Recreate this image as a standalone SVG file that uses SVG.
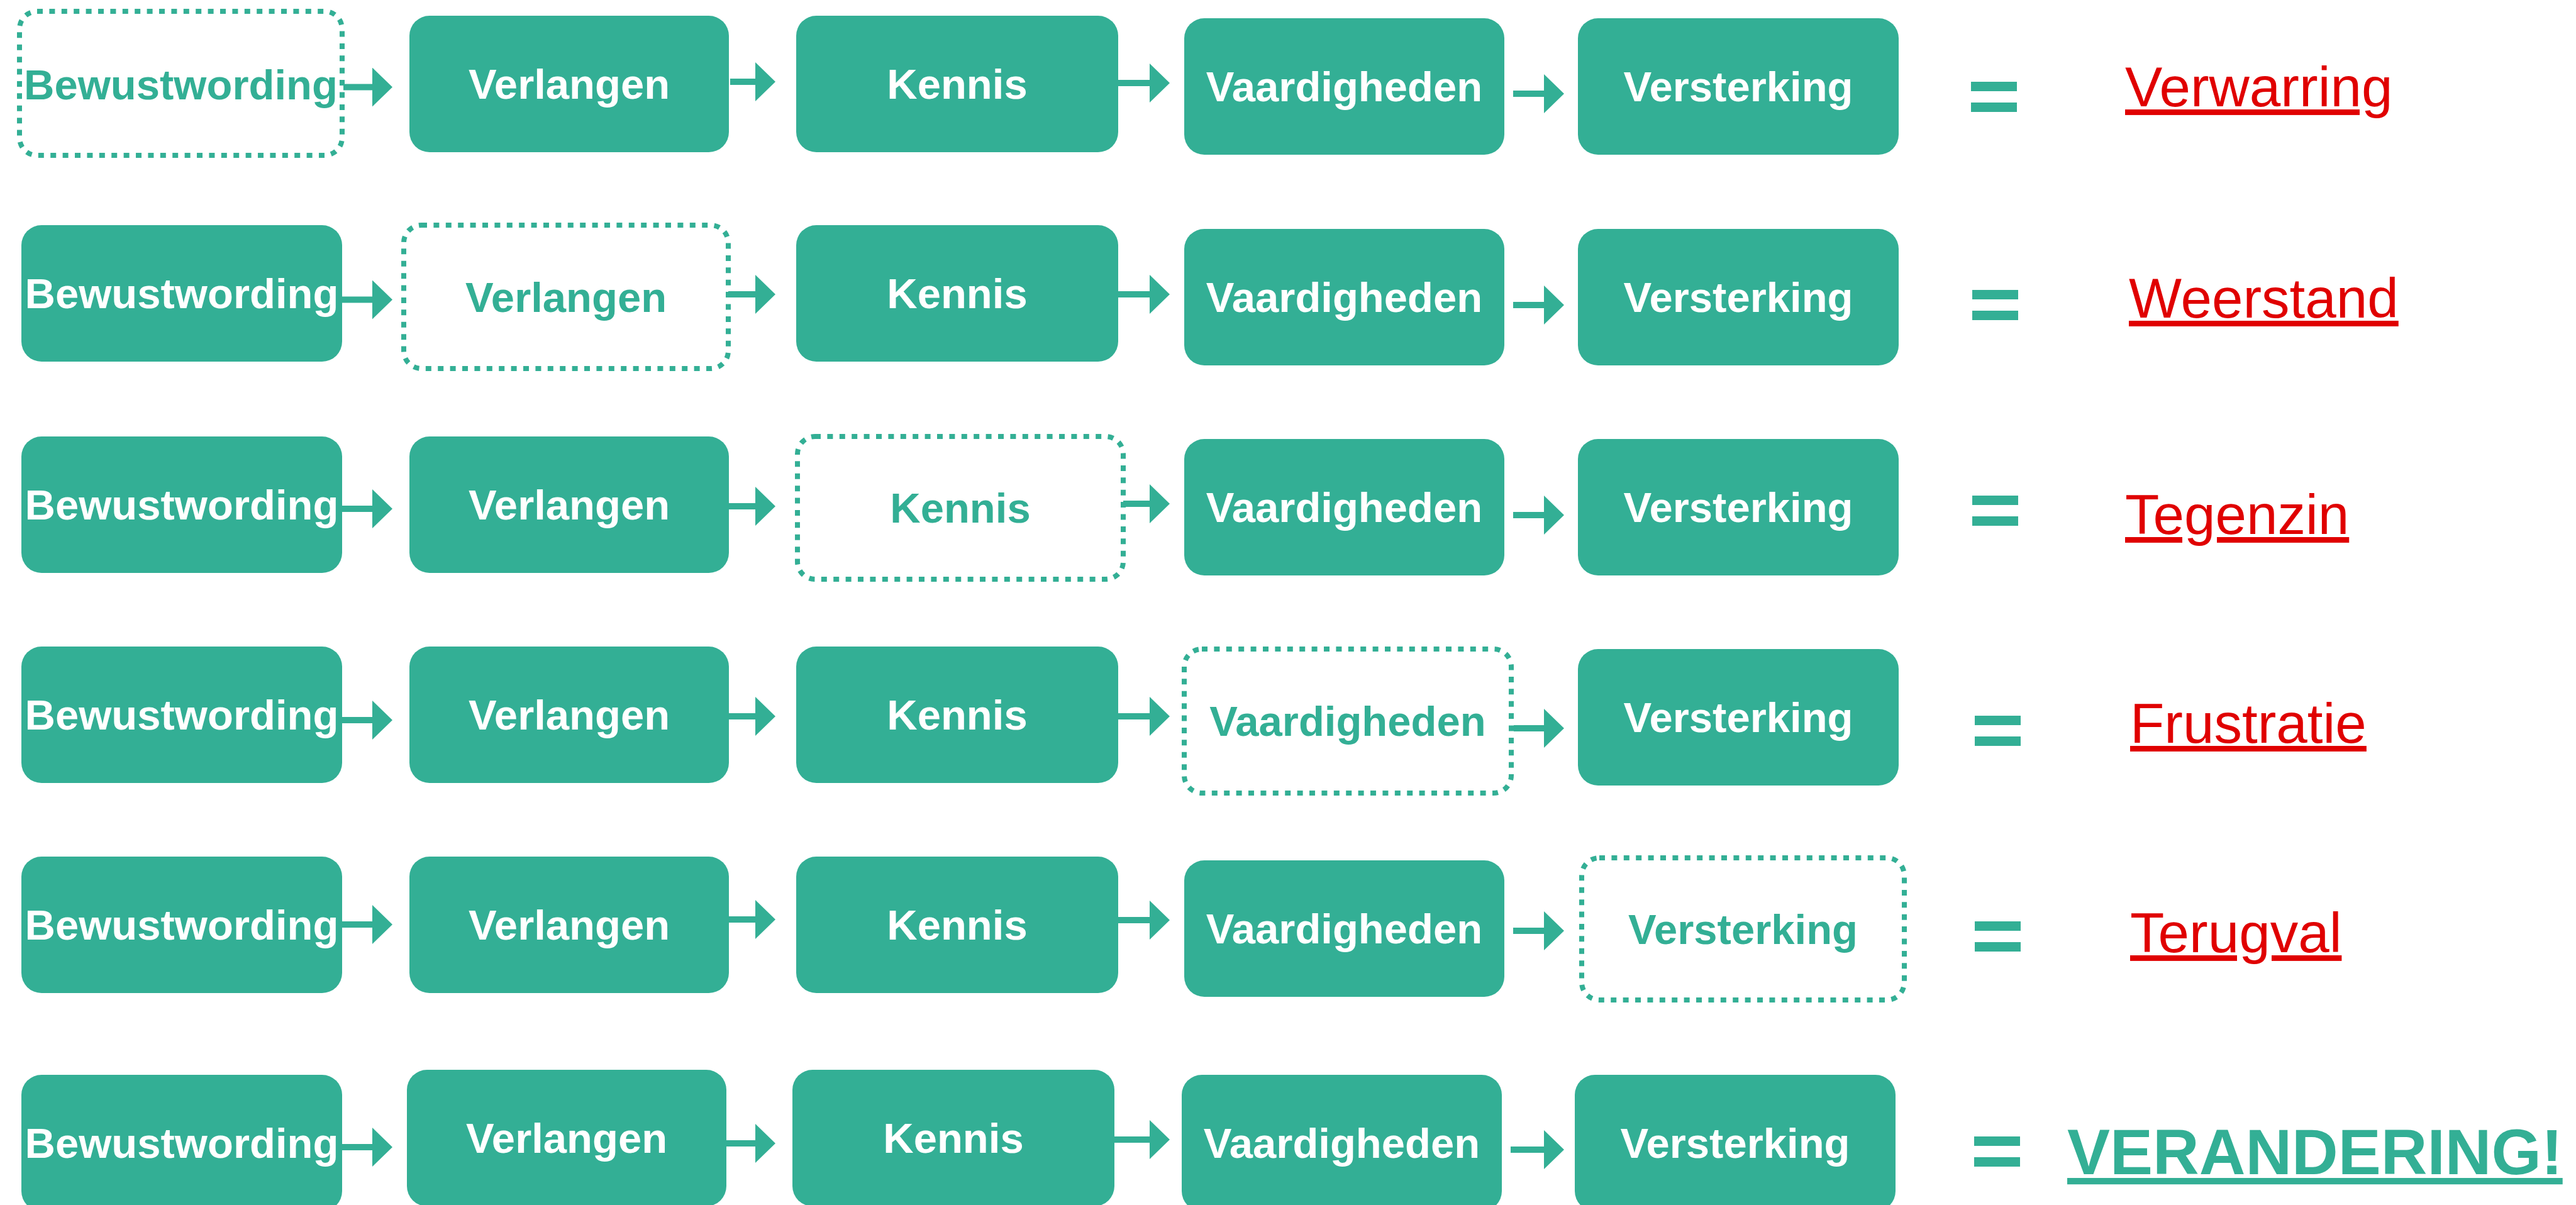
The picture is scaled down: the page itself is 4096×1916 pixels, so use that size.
<svg xmlns="http://www.w3.org/2000/svg" width="4096" height="1916" viewBox="0 0 4096 1916">
<style>
  .box { fill: #33AF95; }
  .dbox { fill: none; stroke: #33AF95; stroke-width: 8; stroke-dasharray: 9 10.4; }
  .lbl { font-family: "Liberation Sans", Arial, Helvetica, sans-serif; font-weight: bold; font-size: 67px; text-anchor: middle; }
  .w { fill: #FFFFFF; }
  .t { fill: #33AF95; }
  .res { font-family: "Liberation Sans", Arial, Helvetica, sans-serif; font-size: 89px; fill: #E00000; text-decoration: underline; }
  .fin { font-family: "Liberation Sans", Arial, Helvetica, sans-serif; font-weight: bold; font-size: 102px; fill: #33AF95; text-decoration: underline; }
  .eq { fill: #33AF95; }
  .arr { stroke: #33AF95; stroke-width: 10; fill: none; }
</style>
<defs>
  <marker id="ah" markerUnits="userSpaceOnUse" viewBox="0 0 32 62" markerWidth="32" markerHeight="62" refX="0" refY="31" orient="auto">
    <path d="M0,0 L32,31 L0,62 Z" fill="#33AF95"/>
  </marker>
</defs>
<rect width="4096" height="1916" fill="#FFFFFF"/>

<!-- Row 1 -->
<g id="r1-bewustwording"><rect class="dbox" x="31" y="18" width="513" height="229" rx="28"/><text class="lbl t" x="287.5" y="158">Bewustwording</text></g>
<g id="r1-verlangen"><rect class="box" x="651" y="25" width="508" height="217" rx="32"/><text class="lbl w" x="905" y="157">Verlangen</text></g>
<g id="r1-kennis"><rect class="box" x="1266" y="25" width="512" height="217" rx="32"/><text class="lbl w" x="1522" y="157">Kennis</text></g>
<g id="r1-vaardigheden"><rect class="box" x="1883" y="29" width="509" height="217" rx="32"/><text class="lbl w" x="2137.5" y="161">Vaardigheden</text></g>
<g id="r1-versterking"><rect class="box" x="2509" y="29" width="510" height="217" rx="32"/><text class="lbl w" x="2764" y="161">Versterking</text></g>
<g id="r1-result"><rect class="eq" x="3134" y="130" width="73" height="15"/><rect class="eq" x="3134" y="163" width="73" height="15"/><text class="res" x="3379" y="169">Verwarring</text></g>

<!-- Row 2 -->
<g id="r2-bewustwording"><rect class="box" x="34" y="358" width="510" height="217" rx="32"/><text class="lbl w" x="289" y="490">Bewustwording</text></g>
<g id="r2-verlangen"><rect class="dbox" x="642" y="358" width="516" height="228" rx="28"/><text class="lbl t" x="900" y="496">Verlangen</text></g>
<g id="r2-kennis"><rect class="box" x="1266" y="358" width="512" height="217" rx="32"/><text class="lbl w" x="1522" y="490">Kennis</text></g>
<g id="r2-vaardigheden"><rect class="box" x="1883" y="364" width="509" height="217" rx="32"/><text class="lbl w" x="2137.5" y="496">Vaardigheden</text></g>
<g id="r2-versterking"><rect class="box" x="2509" y="364" width="510" height="217" rx="32"/><text class="lbl w" x="2764" y="496">Versterking</text></g>
<g id="r2-result"><rect class="eq" x="3136" y="461" width="73" height="15"/><rect class="eq" x="3136" y="494" width="73" height="15"/><text class="res" x="3385" y="505">Weerstand</text></g>

<!-- Row 3 -->
<g id="r3-bewustwording"><rect class="box" x="34" y="694" width="510" height="217" rx="32"/><text class="lbl w" x="289" y="826">Bewustwording</text></g>
<g id="r3-verlangen"><rect class="box" x="651" y="694" width="508" height="217" rx="32"/><text class="lbl w" x="905" y="826">Verlangen</text></g>
<g id="r3-kennis"><rect class="dbox" x="1268" y="694" width="518" height="227" rx="28"/><text class="lbl t" x="1527" y="831">Kennis</text></g>
<g id="r3-vaardigheden"><rect class="box" x="1883" y="698" width="509" height="217" rx="32"/><text class="lbl w" x="2137.5" y="830">Vaardigheden</text></g>
<g id="r3-versterking"><rect class="box" x="2509" y="698" width="510" height="217" rx="32"/><text class="lbl w" x="2764" y="830">Versterking</text></g>
<g id="r3-result"><rect class="eq" x="3136" y="788" width="73" height="15"/><rect class="eq" x="3136" y="821" width="73" height="15"/><text class="res" x="3379" y="849">Tegenzin</text></g>

<!-- Row 4 -->
<g id="r4-bewustwording"><rect class="box" x="34" y="1028" width="510" height="217" rx="32"/><text class="lbl w" x="289" y="1160">Bewustwording</text></g>
<g id="r4-verlangen"><rect class="box" x="651" y="1028" width="508" height="217" rx="32"/><text class="lbl w" x="905" y="1160">Verlangen</text></g>
<g id="r4-kennis"><rect class="box" x="1266" y="1028" width="512" height="217" rx="32"/><text class="lbl w" x="1522" y="1160">Kennis</text></g>
<g id="r4-vaardigheden"><rect class="dbox" x="1883" y="1032" width="520" height="229" rx="28"/><text class="lbl t" x="2143" y="1170">Vaardigheden</text></g>
<g id="r4-versterking"><rect class="box" x="2509" y="1032" width="510" height="217" rx="32"/><text class="lbl w" x="2764" y="1164">Versterking</text></g>
<g id="r4-result"><rect class="eq" x="3140" y="1138" width="73" height="15"/><rect class="eq" x="3140" y="1171" width="73" height="15"/><text class="res" x="3387" y="1181">Frustratie</text></g>

<!-- Row 5 -->
<g id="r5-bewustwording"><rect class="box" x="34" y="1362" width="510" height="217" rx="32"/><text class="lbl w" x="289" y="1494">Bewustwording</text></g>
<g id="r5-verlangen"><rect class="box" x="651" y="1362" width="508" height="217" rx="32"/><text class="lbl w" x="905" y="1494">Verlangen</text></g>
<g id="r5-kennis"><rect class="box" x="1266" y="1362" width="512" height="217" rx="32"/><text class="lbl w" x="1522" y="1494">Kennis</text></g>
<g id="r5-vaardigheden"><rect class="box" x="1883" y="1368" width="509" height="217" rx="32"/><text class="lbl w" x="2137.5" y="1500">Vaardigheden</text></g>
<g id="r5-versterking"><rect class="dbox" x="2515" y="1364" width="513" height="226" rx="28"/><text class="lbl t" x="2771.5" y="1501">Versterking</text></g>
<g id="r5-result"><rect class="eq" x="3140" y="1465" width="73" height="15"/><rect class="eq" x="3140" y="1498" width="73" height="15"/><text class="res" x="3387" y="1514">Terugval</text></g>

<!-- Row 6 -->
<g id="r6-bewustwording"><rect class="box" x="34" y="1709" width="510" height="217" rx="32"/><text class="lbl w" x="289" y="1841">Bewustwording</text></g>
<g id="r6-verlangen"><rect class="box" x="647" y="1701" width="508" height="217" rx="32"/><text class="lbl w" x="901" y="1833">Verlangen</text></g>
<g id="r6-kennis"><rect class="box" x="1260" y="1701" width="512" height="217" rx="32"/><text class="lbl w" x="1516" y="1833">Kennis</text></g>
<g id="r6-vaardigheden"><rect class="box" x="1879" y="1709" width="509" height="217" rx="32"/><text class="lbl w" x="2133.5" y="1841">Vaardigheden</text></g>
<g id="r6-versterking"><rect class="box" x="2504" y="1709" width="510" height="217" rx="32"/><text class="lbl w" x="2759" y="1841">Versterking</text></g>
<g id="r6-result"><rect class="eq" x="3139" y="1807" width="73" height="15"/><rect class="eq" x="3139" y="1840" width="73" height="15"/><text class="fin" x="3287" y="1867">VERANDERING!</text></g>

<!-- Connectors -->
<g id="connectors" class="arr">
  <line x1="546" y1="138.5" x2="592" y2="138.5" marker-end="url(#ah)"/>
  <line x1="1161" y1="130" x2="1201" y2="130" marker-end="url(#ah)"/>
  <line x1="1778" y1="132" x2="1828" y2="132" marker-end="url(#ah)"/>
  <line x1="2406" y1="149" x2="2455" y2="149" marker-end="url(#ah)"/>

  <line x1="544" y1="476.5" x2="592" y2="476.5" marker-end="url(#ah)"/>
  <line x1="1158" y1="468" x2="1201" y2="468" marker-end="url(#ah)"/>
  <line x1="1778" y1="468" x2="1828" y2="468" marker-end="url(#ah)"/>
  <line x1="2406" y1="485" x2="2455" y2="485" marker-end="url(#ah)"/>

  <line x1="544" y1="809" x2="592" y2="809" marker-end="url(#ah)"/>
  <line x1="1159" y1="805" x2="1201" y2="805" marker-end="url(#ah)"/>
  <line x1="1786" y1="801" x2="1828" y2="801" marker-end="url(#ah)"/>
  <line x1="2406" y1="819" x2="2455" y2="819" marker-end="url(#ah)"/>

  <line x1="544" y1="1145" x2="592" y2="1145" marker-end="url(#ah)"/>
  <line x1="1159" y1="1139" x2="1201" y2="1139" marker-end="url(#ah)"/>
  <line x1="1778" y1="1139" x2="1828" y2="1139" marker-end="url(#ah)"/>
  <line x1="2407" y1="1158" x2="2455" y2="1158" marker-end="url(#ah)"/>

  <line x1="544" y1="1470" x2="592" y2="1470" marker-end="url(#ah)"/>
  <line x1="1159" y1="1462" x2="1201" y2="1462" marker-end="url(#ah)"/>
  <line x1="1778" y1="1463" x2="1828" y2="1463" marker-end="url(#ah)"/>
  <line x1="2406" y1="1480" x2="2455" y2="1480" marker-end="url(#ah)"/>

  <line x1="544" y1="1824" x2="592" y2="1824" marker-end="url(#ah)"/>
  <line x1="1155" y1="1818" x2="1201" y2="1818" marker-end="url(#ah)"/>
  <line x1="1772" y1="1812" x2="1828" y2="1812" marker-end="url(#ah)"/>
  <line x1="2402" y1="1828" x2="2455" y2="1828" marker-end="url(#ah)"/>
</g>
</svg>
